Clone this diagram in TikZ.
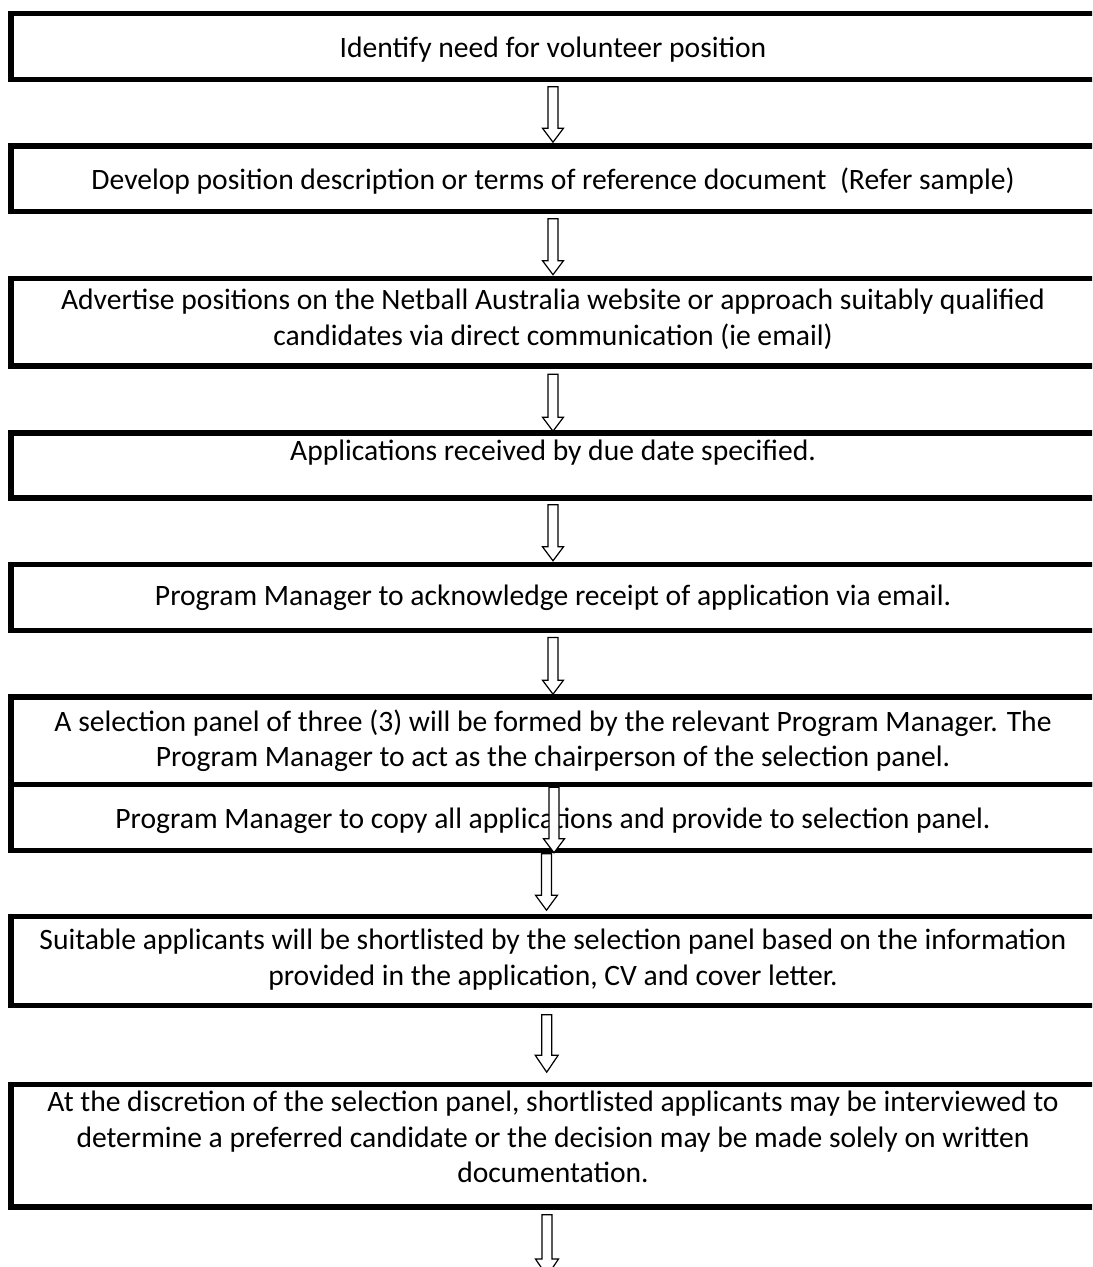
\documentclass[tikz,border=0pt]{standalone}
\usepackage{fontspec}
\setmainfont{Carlito}
\usetikzlibrary{calc}
\tikzset{
  box/.style={draw=black, line width=2.8pt, minimum width=545pt, inner sep=0pt},
  txt/.style={align=center, anchor=north, font=\fontsize{14.8}{17.75}\selectfont, inner sep=0pt,
              execute at begin node={\rule{0pt}{12pt}}},
  barrow/.style={draw=black, fill=white, line width=0.6pt, line join=miter},
}
% #1 start, #2 tip, #3 half head width, #4 head length
\newcommand\blockarrow[4]{%
  \draw[barrow] let \p1=(#1), \p2=(#2) in
    (\x1-2.5pt,\y1) -- (\x1-2.5pt,\y2+#4) -- (\x1-#3,\y2+#4) -- (\x1,\y2)
    -- (\x1+#3,\y2+#4) -- (\x1+2.5pt,\y2+#4) -- (\x1+2.5pt,\y1) -- cycle;
}
\begin{document}
\begin{tikzpicture}[x=0.5pt,y=-0.5pt]
\useasboundingbox (0,0) rectangle (1092,1267);
\clip (0,0) rectangle (1092,1267);
% boxes (right edge lies beyond the picture)
\node[box, minimum height=33pt]    (b1) at (556,46.5)   {};
\node[box, minimum height=32.75pt] (b2) at (556,178.75) {};
\node[box, minimum height=43.75pt] (b3) at (556,322.25) {};
\node[box, minimum height=32.5pt]  (b4) at (556,465.5)  {};
\node[box, minimum height=33pt]    (b5) at (556,597.6)  {};
\node[box, minimum height=43.75pt] (b6) at (556,740.75) {};
\node[box, minimum height=33pt]    (b7) at (556,817.5)  {};
\node[box, minimum height=44.5pt]  (b8) at (556,961)    {};
\node[box, minimum height=61.25pt] (b9) at (556,1145.75){};
% texts (north = first baseline - 12pt)
\node[txt] (t1) at (553,33)   {Identify need for volunteer position};
\node[txt] (t2) at (553,165.5){Develop position description or terms of reference document~ (Refer sample)};
\node[txt] (t3) at (553,289)  {Advertise positions on the Netball Australia website or approach suitably qualified\\candidates via direct communication (ie email)};
\node[txt] (t4) at (553,436)  {Applications received by due date specified.};
\node[txt] (t5) at (553,581)  {Program Manager to acknowledge receipt of application via email.};
\node[txt] (t6) at (553,709)  {A selection panel of three (3) will be formed by the relevant Program Manager. The\\Program Manager to act as the chairperson of the selection panel.};
\node[txt] (t7) at (553,804)  {Program Manager to copy all applications and provide to selection panel.};
\node[txt] (t8) at (553,929)  {Suitable applicants will be shortlisted by the selection panel based on the information\\provided in the application, CV and cover letter.};
\node[txt] (t9) at (553,1091) {At the discretion of the selection panel, shortlisted applicants may be interviewed to\\determine a preferred candidate or the decision may be made solely on written\\documentation.};
% arrows
\coordinate (a1s) at ($(b1.south)+(-3,4.5)$);   \coordinate (a1e) at ($(b2.north)+(-3,-1)$);
\coordinate (a2s) at ($(b2.south)+(-3,4.5)$);   \coordinate (a2e) at ($(b3.north)+(-3,-1)$);
\coordinate (a3s) at ($(b3.south)+(-3,5.5)$);   \coordinate (a3e) at ($(b4.north)+(-3,1)$);
\coordinate (a4s) at ($(b4.south)+(-3,4)$);     \coordinate (a4e) at ($(b5.north)+(-3,-1)$);
\coordinate (a5s) at ($(b5.south)+(-3,4)$);     \coordinate (a5e) at ($(b6.north)+(-3,0)$);
\coordinate (a6s) at ($(b7.north)+(-2,5.5)$);   \coordinate (a6e) at ($(b7.south)+(-2,-0.5)$);
\coordinate (a7s) at ($(b7.south)+(-9.5,0.5)$); \coordinate (a7e) at ($(b8.north)+(-9.5,-3.5)$);
\coordinate (a8s) at ($(b8.south)+(-9.3,6.5)$); \coordinate (a8e) at ($(b9.north)+(-9.3,-9.5)$);
\coordinate (a9s) at ($(b9.south)+(-9,5)$);     \coordinate (a9e) at (547,1276);
\blockarrow{a1s}{a1e}{5.25pt}{7pt}
\blockarrow{a2s}{a2e}{5.25pt}{7pt}
\blockarrow{a3s}{a3e}{5.25pt}{7pt}
\blockarrow{a4s}{a4e}{5.25pt}{7pt}
\blockarrow{a5s}{a5e}{5.25pt}{7pt}
\blockarrow{a6s}{a6e}{5.25pt}{7pt}
\blockarrow{a7s}{a7e}{5.5pt}{7.5pt}
\blockarrow{a8s}{a8e}{5.75pt}{8.5pt}
\blockarrow{a9s}{a9e}{5.75pt}{8.5pt}
\end{tikzpicture}
\end{document}
